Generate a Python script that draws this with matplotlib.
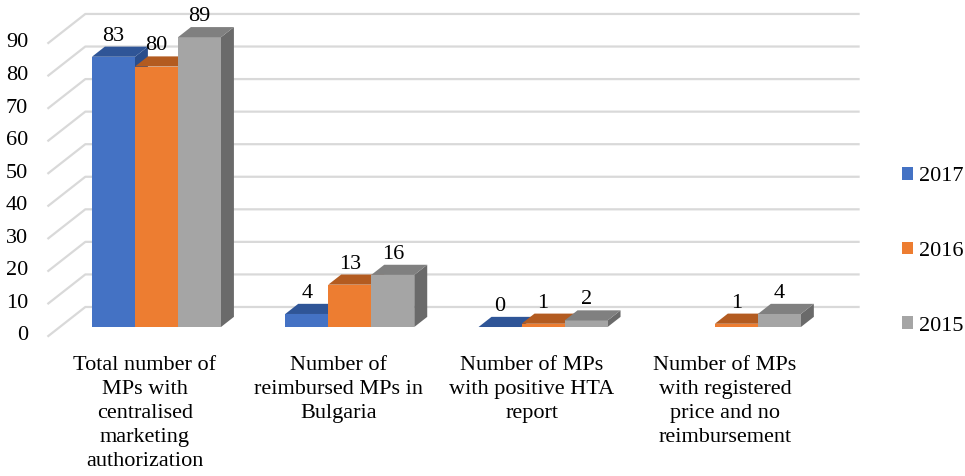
import numpy as np
import matplotlib.pyplot as plt

categories = ["Total number of\nMPs with\ncentralised\nmarketing\nauthorization",
              "Number of\nreimbursed MPs in\nBulgaria",
              "Number of MPs\nwith positive HTA\nreport",
              "Number of MPs\nwith registered\nprice and no\nreimbursement"]
years = ["2017", "2016", "2015"]
v2017 = [83, 4, 0, np.nan]
v2016 = [80, 13, 1, 1]
v2015 = [89, 16, 2, 4]
yticks = list(range(0, 100, 10))

front_c = ['#4472C4', '#ED7D31', '#A5A5A5']
top_c = ['#2F5597', '#B35B20', '#808080']
side_c = ['#2B4E8C', '#9C4F1C', '#6A6A6A']
grid_c = '#D9D9D9'

plt.rcParams['font.family'] = ['Liberation Serif', 'DejaVu Serif']
fs = 16

fig = plt.figure(figsize=(9.65, 4.76), dpi=100)
ax = fig.add_axes([0, 0, 1, 1])
ax.set_xlim(-0.75, 4.242)
ax.set_ylim(-43.0, 103.2)
ax.axis('off')

# depth of the "3d" box, in data units
DX, DY = 0.1914, 8.91
d0, d1 = 0.31, 0.66
w = 0.2225


def shift(x, y, d):
    return x + d * DX, y + d * DY


# side wall + back wall gridlines
for v in yticks:
    x0, y0 = shift(-0.5, v, 0)
    x1, y1 = shift(-0.5, v, 1)
    x2, y2 = shift(3.5, v, 1)
    ax.plot([x0, x1, x2], [y0, y1, y2], color=grid_c, lw=1.6, zorder=1)
    ax.text(-0.605, v, str(v), ha='right', va='center', fontsize=fs)

x = np.arange(len(categories))
series = [v2017, v2016, v2015]
handles = []
for i, vals in enumerate(series):
    left = x - 1.5 * w + i * w
    bars = ax.bar(left + d0 * DX, vals, width=w, bottom=d0 * DY, align='edge',
                  color=front_c[i], lw=0, label=years[i])
    handles.append(bars)
    for g, (xl, h, b) in enumerate(zip(left, vals, bars)):
        z = 2 + g * 10 + i * 2
        b.set_zorder(z + 1)
        if np.isnan(h):
            continue
        # top face
        p = [shift(xl, h, d0), shift(xl + w, h, d0), shift(xl + w, h, d1), shift(xl, h, d1)]
        ax.fill(*zip(*p), color=top_c[i], lw=0, zorder=z + 1)
        # right side face
        p = [shift(xl + w, 0, d0), shift(xl + w, h, d0), shift(xl + w, h, d1), shift(xl + w, 0, d1)]
        ax.fill(*zip(*p), color=side_c[i], lw=0, zorder=z)
        tx, ty = shift(xl + w / 2, h, d1)
        ax.text(xl + w / 2 + d0 * DX, ty + 0.3, str(int(h)), ha='center', va='bottom',
                fontsize=fs, zorder=50)

for g, lab in enumerate(categories):
    ax.text(g, -6.0, lab, ha='center', va='top', fontsize=fs, linespacing=1.37)

ax.legend(handles=handles, loc='center left', bbox_to_anchor=(0.935, 0.472),
          bbox_transform=fig.transFigure, frameon=False, fontsize=fs,
          handlelength=0.5, handleheight=0.5, handletextpad=0.25,
          labelspacing=2.5, borderpad=0, borderaxespad=0)

fig.savefig('out.png', dpi=100)
